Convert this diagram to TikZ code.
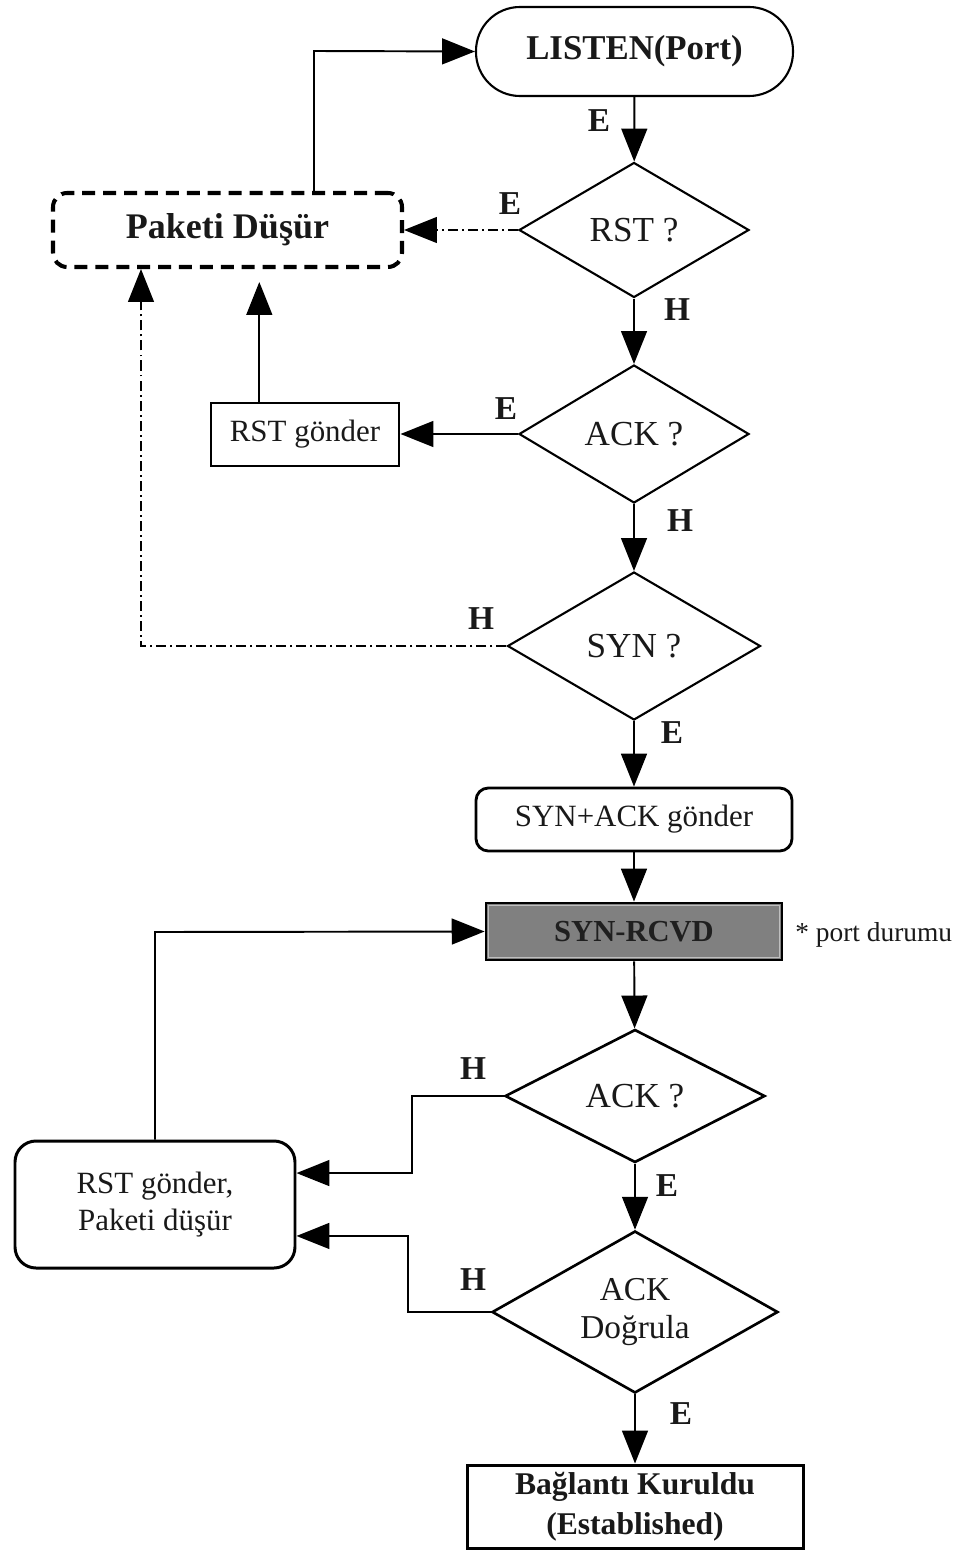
\documentclass[tikz,border=0pt]{standalone}
\usepackage{fontspec}
\setmainfont{Liberation Serif}
\usetikzlibrary{shapes.geometric,arrows.meta}
% one drawing unit = 0.02cm (about 0.567pt)
\newcommand\pxu{0.02cm}

\tikzset{
  base/.style={line width=1.2pt, draw=black, text=black!90, inner sep=0pt, align=center},
  regtxt/.style={font=\fontsize{17.6}{20.5}\selectfont},
  boldtxt/.style={font=\fontsize{19.8}{22}\selectfont\bfseries},
  decision/.style={base, font=\fontsize{20}{22}\selectfont, diamond, aspect=1.7},
  flow/.style={line width=1.1pt, -{Triangle[length=18.7pt, width=14.7pt]}},
  dashdot/.style={line width=0.9pt, dash pattern=on 5.7pt off 2.3pt on 1.1pt off 2.3pt},
  yn/.style={font=\fontsize{19}{21}\selectfont\bfseries, inner sep=0pt, text=black!90}
}

\begin{document}
\begin{tikzpicture}[x=\pxu, y=-\pxu]
\useasboundingbox (0,0) rectangle (959,1551);

% ---------- nodes ----------
\node[base, boldtxt, rectangle, rounded corners=25pt,
      minimum width=317*\pxu, minimum height=89*\pxu] (listen) at (634.5,51.5) {LISTEN(Port)};

\node[decision, minimum width=230*\pxu, minimum height=135*\pxu] (rst) at (634,230) {RST ?};
\node[decision, minimum width=230*\pxu, minimum height=138*\pxu] (ack1) at (634,434) {ACK ?};
\node[decision, minimum width=253*\pxu, minimum height=148*\pxu] (syn) at (634,646) {SYN ?};

\node[base, font=\fontsize{20.5}{22}\selectfont\bfseries, rectangle, rounded corners=8pt, line width=2.3pt,
      dash pattern=on 7.4pt off 4.5pt,
      minimum width=349*\pxu, minimum height=74*\pxu] (drop) at (227.5,230) {Paketi Düşür};

\node[base, regtxt, rectangle, line width=1.7pt,
      minimum width=188*\pxu, minimum height=63*\pxu] (rstA) at (305,434.5) {RST gönder};

\node[base, regtxt, rectangle, rounded corners=7pt, line width=1.6pt,
      minimum width=316*\pxu, minimum height=63*\pxu] (synack) at (634,819.5) {SYN+ACK gönder};

\node[base, rectangle, line width=1.6pt, fill=black!50,
      font=\fontsize{17.4}{20}\selectfont\bfseries, text=black!88,
      minimum width=296*\pxu, minimum height=57*\pxu] (rcvd) at (634,931.5) {SYN-RCVD};
\draw[black!25, line width=0.6pt] ([shift={(3.5,3.5)}]rcvd.north west) rectangle ([shift={(-3.5,-3.5)}]rcvd.south east);

\node[font=\fontsize{15.6}{18}\selectfont, inner sep=0pt, anchor=west, text=black!90] (note) at (795,935) {* port durumu};

\node[decision, line width=1.5pt, minimum width=260*\pxu, minimum height=133*\pxu] (ack2) at (635,1096) {ACK ?};
\node[decision, font=\fontsize{19}{21.5}\selectfont, line width=1.5pt,
      minimum width=286*\pxu, minimum height=162*\pxu] (verify) at (635,1312) {ACK\\Doğrula};

\node[base, regtxt, rectangle, rounded corners=12pt, line width=1.7pt,
      minimum width=280*\pxu, minimum height=127*\pxu] (rstB) at (155,1204.5) {RST gönder,\\[1pt]Paketi düşür};

\node[base, rectangle, line width=1.7pt,
      font=\fontsize{18}{22.5}\selectfont\bfseries,
      minimum width=336*\pxu, minimum height=83*\pxu] (est) at (635,1506.5) {Bağlantı Kuruldu\\(Established)};

% ---------- bend points ----------
\coordinate (upbend) at (314,51);
\coordinate (synbend) at (141,646);
\coordinate (a2bend) at (412,1096);
\coordinate (vbend) at (408,1312);
\coordinate (backbend) at (155,932);

% ---------- connectors ----------
\draw[flow] (listen) -- (rst);
\draw[flow, dashdot] (rst.west) -- (rst.west -| drop.east);
\draw[flow] (rst) -- (ack1);
\draw[flow] (ack1.west) -- (ack1.west -| rstA.east);
\draw[flow, shorten >=7.4pt] ([xshift=-26pt]rstA.north) -- ([xshift=-26pt]rstA.north |- drop.south);
\draw[flow] (ack1) -- (syn);
\draw[flow, dashdot] (syn.west) -- (synbend) -- (synbend |- drop.south);
\draw[flow] (drop.north -| upbend) -- (upbend) -- (listen.west);
\draw[flow] (syn) -- (synack);
\draw[flow] (synack) -- (rcvd);
\draw[flow] (rcvd) -- (ack2);
\draw[flow] (ack2.west) -- (a2bend) |- ([yshift=17.9pt]rstB.east);
\draw[flow] (ack2) -- (verify);
\draw[flow] (verify.west) -- (vbend) |- ([yshift=-17.9pt]rstB.east);
\draw[flow] (rstB.north) -- (backbend) -- (rcvd.west);
\draw[flow] (verify) -- (est);

% ---------- branch labels ----------
\node[yn] (l1) at (599,121) {E};
\node[yn] (l2) at (510,204) {E};
\node[yn] (l3) at (677,310) {H};
\node[yn] (l4) at (506,409) {E};
\node[yn] (l5) at (680,521) {H};
\node[yn] (l6) at (481,619) {H};
\node[yn] (l7) at (672,733) {E};
\node[yn] (l8) at (473,1069) {H};
\node[yn] (l9) at (667,1186) {E};
\node[yn] (l10) at (473,1280) {H};
\node[yn] (l11) at (681,1414) {E};
\end{tikzpicture}
\end{document}
